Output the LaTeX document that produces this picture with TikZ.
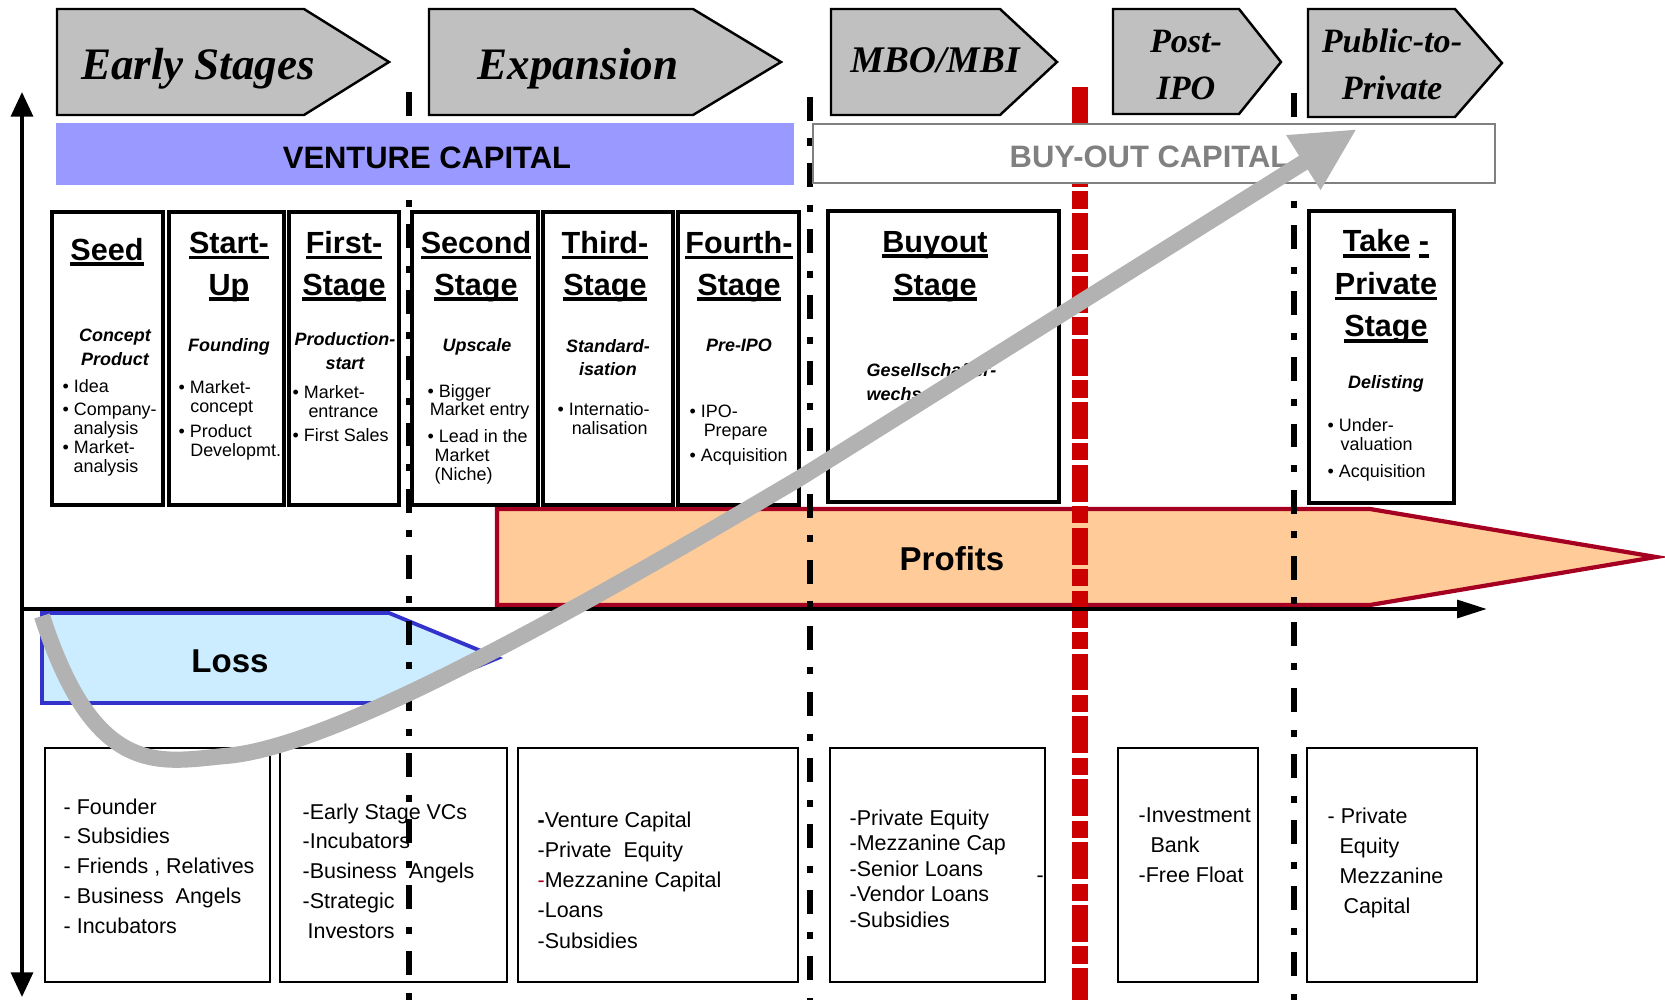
\documentclass[tikz,border=0pt]{standalone}
\usepackage{fontspec}
\setmainfont{Liberation Sans}
\newfontfamily\titlefont{Liberation Serif}
\usetikzlibrary{arrows.meta}

\definecolor{phasegray}{HTML}{C0C0C0}
\definecolor{vcblue}{HTML}{9999FF}
\definecolor{profitfill}{HTML}{FFCC99}
\definecolor{profitline}{HTML}{A50021}
\definecolor{lossfill}{HTML}{CCECFF}
\definecolor{lossline}{HTML}{3333CC}
\definecolor{ipored}{HTML}{CC0000}
\definecolor{curvegray}{HTML}{B2B2B2}
\definecolor{bogray}{HTML}{808080}

\newcommand{\hul}[1]{\setbox0=\hbox{#1}\rlap{\rule[-1.6pt]{\wd0}{1pt}}\box0}

\begin{document}
\begin{tikzpicture}[x=0.01cm, y=-0.01cm,
    phase/.style={draw=black, line width=0.7pt, fill=phasegray},
    phasebig/.style={font=\titlefont\bfseries\itshape\fontsize{12.8}{14}\selectfont, anchor=base, inner sep=0pt},
    phasesmall/.style={font=\titlefont\bfseries\itshape\fontsize{9.7}{13.4}\selectfont, anchor=base, align=center, inner sep=0pt},
    bartext/.style={font=\bfseries\fontsize{8.8}{10}\selectfont, anchor=base, inner sep=0pt},
    stagebox/.style={draw=black, line width=1pt},
    srcbox/.style={draw=black, line width=0.8pt},
    head/.style={font=\bfseries\fontsize{8.7}{11.7}\selectfont, anchor=base, align=center, inner sep=0pt},
    sub/.style={font=\bfseries\itshape\fontsize{5.1}{6.6}\selectfont, anchor=base, align=center, inner sep=0pt},
    item/.style={font=\fontsize{5.1}{5.4}\selectfont, anchor=base west, align=left, inner sep=0pt},
    src/.style={font=\fontsize{6.1}{8.45}\selectfont, anchor=base west, align=left, inner sep=0pt},
    sepline/.style={line width=1.5pt, dash pattern=on 6.8pt off 5pt on 2pt off 5pt},
    bigtext/.style={font=\bfseries\fontsize{9.4}{11}\selectfont, anchor=base, inner sep=0pt}]
\useasboundingbox (0,0) rectangle (1665,1000);

% profits and loss
\draw[draw=profitline, fill=profitfill, line width=1.2pt] (497,509) -- (1370,509) -- (1656,557) -- (1370,605) -- (497,605) -- cycle;
\node[bigtext] (profits) at (952,570) {Profits};
\draw[draw=lossline, fill=lossfill, line width=1.1pt] (42,613) -- (389,613) -- (498,658) -- (389,703) -- (42,703) -- cycle;
\node[bigtext] (loss) at (230,672) {Loss};

% sources of capital (nodes sit on their last line)
\foreach \l/\r in {45/270, 280/507, 518/798, 830/1045, 1118/1258, 1307/1477}
  \draw[srcbox] (\l,748) rectangle (\r,982);
\node[src] (srcearly) at (63,933) {- Founder\\- Subsidies\\- Friends , Relatives\\- Business \ Angels\\- Incubators};
\node[src] (srcstart) at (302,938) {-Early Stage VCs\\-Incubators\\-Business \ Angels\\-Strategic\\\hspace*{1.4pt}Investors};
\node[src, font=\fontsize{6.1}{8.55}\selectfont] (srcexp) at (537,948) {\textbf{-}Venture Capital\\-Private \ Equity\\{\color{profitline}-}Mezzanine Capital\\-Loans\\-Subsidies};
\node[src, font=\fontsize{6.1}{7.25}\selectfont] (srcmbo) at (849,927) {-Private Equity\\-Mezzanine Cap\\-Senior Loans\\-Vendor Loans\\-Subsidies};
\node[src] (srcdash) at (1036,882) {-};
\node[src] (srcipo) at (1138,882) {-Investment\\\hspace*{3.4pt}Bank\\-Free Float};
\node[src] (srcptp) at (1327,913) {- Private\\\hspace*{3.4pt}Equity\\\hspace*{3.4pt}Mezzanine\\\hspace*{4.5pt}Capital};

% phase borders
\draw[sepline] (409,92) -- (409,1000);
\draw[sepline] (810,97) -- (810,1000);
\draw[sepline] (1294,93) -- (1294,1000);
\draw[ipored, line width=4.3pt, dash pattern=on 10.5pt off 1.2pt on 5pt off 1.2pt] (1080,87) -- (1080,1000);

% capital bars
\fill[vcblue] (56,123) rectangle (794,185);
\node[bartext] (vc) at (427,168) {VENTURE CAPITAL};
\draw[bogray, line width=0.8pt, fill=white] (813,124) rectangle (1495,183);
\node[bartext, text=bogray, anchor=base west] (bo) at (1009,167) {BUY-OUT CAPITAL};

% phases
\draw[phase] (57,9) -- (304,9) -- (389,62) -- (304,115) -- (57,115) -- cycle;
\node[phasebig] (early) at (198,80) {Early Stages};
\draw[phase] (429,9) -- (693,9) -- (781,62) -- (693,115) -- (429,115) -- cycle;
\node[phasebig] (expansion) at (578,80) {Expansion};
\draw[phase] (831,9) -- (1000,9) -- (1057,62) -- (1000,115) -- (831,115) -- cycle;
\node[phasebig, font=\titlefont\bfseries\itshape\fontsize{10.7}{12}\selectfont] (mbo) at (935,73) {MBO/MBI};
\draw[phase] (1113,9) -- (1239,9) -- (1281,62) -- (1239,114) -- (1113,114) -- cycle;
\node[phasesmall] (postipo) at (1186,100) {Post-\\IPO};
\draw[phase] (1308,9) -- (1455,9) -- (1502,63) -- (1455,117) -- (1308,117) -- cycle;
\node[phasesmall] (ptp) at (1392,100) {Public-to-\\Private};

% stages
\foreach \l/\r in {52/163, 169/284, 289/399, 412/538, 543/673, 678/799}
  \draw[stagebox] (\l,212) rectangle (\r,505);
\draw[stagebox] (828,211) rectangle (1059,502);
\draw[stagebox] (1309,211) rectangle (1454,503);

\node[head] (seedhd) at (107,260) {\hul{Seed}};
\node[head] (startuphd) at (229,295) {\hul{Start-}\\\hul{Up}};
\node[head] (firsthd) at (344,295) {\hul{First-}\\\hul{Stage}};
\node[head] (secondhd) at (476,295) {\hul{Second}\\\hul{Stage}};
\node[head] (thirdhd) at (605,295) {\hul{Third-}\\\hul{Stage}};
\node[head] (fourthhd) at (739,295) {\hul{Fourth-}\\\hul{Stage}};
\node[head, font=\bfseries\fontsize{8.7}{12.2}\selectfont] (buyouthd) at (935,295) {\hul{Buyout}\\\hul{Stage}};
\node[head, font=\bfseries\fontsize{8.7}{12.1}\selectfont] (takehd) at (1386,337) {\hul{Take}\ \hul{-}\\\hul{Private}\\\hul{Stage}};

\node[sub] (seedsub) at (115,365) {Concept\\Product};
\node[sub] (startupsub) at (229,351) {Founding};
\node[sub] (firstsub) at (345,369) {Production-\\start};
\node[sub] (secondsub) at (477,351) {Upscale};
\node[sub] (thirdsub) at (608,376) {Standard-\\isation};
\node[sub] (fourthsub) at (739,351) {Pre-IPO};
\node[sub, anchor=base west, align=left] (buyoutsub) at (866,400) {Gesellschafter-\\wechsel};
\node[sub] (takesub) at (1386,388) {Delisting};

\node[item] (seeditems) at (62,472) {\textbullet\ Idea\\[1.1pt]\textbullet\ Company-\\\hspace*{3.1pt}analysis\\\textbullet\ Market-\\\hspace*{3.1pt}analysis};
\node[item] (startupitems) at (178,456) {\textbullet\ Market-\\\hspace*{3.3pt}concept\\[1.7pt]\textbullet\ Product\\\hspace*{3.3pt}Developmt.};
\node[item] (firstitems) at (292,441) {\textbullet\ Market-\\\hspace*{4.5pt}entrance\\[1.4pt]\textbullet\ First Sales};
\node[item] (seconditems) at (427,480) {\textbullet\ Bigger\\\hspace*{0.6pt}Market entry\\[2pt]\textbullet\ Lead in the\\\hspace*{2pt}Market\\\hspace*{2pt}(Niche)};
\node[item] (thirditems) at (557,434) {\textbullet\ Internatio-\\\hspace*{4pt}nalisation};
\node[item] (fourthitems) at (689,461) {\textbullet\ IPO-\\\hspace*{4pt}Prepare\\[1.7pt]\textbullet\ Acquisition};
\node[item] (takeitems) at (1327,477) {\textbullet\ Under-\\\hspace*{3.7pt}valuation\\[2pt]\textbullet\ Acquisition};

% axes
\coordinate (ytop) at (22,92);
\coordinate (ybot) at (22,997);
\coordinate (xleft) at (20,609);
\coordinate (xright) at (1487,609);
\draw[line width=1.1pt, {Triangle[length=7pt,width=6.2pt]}-{Triangle[length=7pt,width=6.2pt]}] (ytop) -- (ybot);
\draw[line width=1.2pt, -{Triangle[length=8.5pt,width=5pt]}] (xleft) -- (xright);

% j-curve
\coordinate (cstart) at (42,616);
\coordinate (cbottom) at (225,756);
\coordinate (cmid) at (800,478);
\coordinate (ctip) at (1357,129);
\draw[curvegray, line width=4.6pt, -{Triangle[length=18pt,width=17pt]}] (cstart) .. controls (95,780) and (160,762) .. (cbottom) .. controls (330,748) and (560,620) .. (cmid) -- (ctip);
\end{tikzpicture}
\end{document}
